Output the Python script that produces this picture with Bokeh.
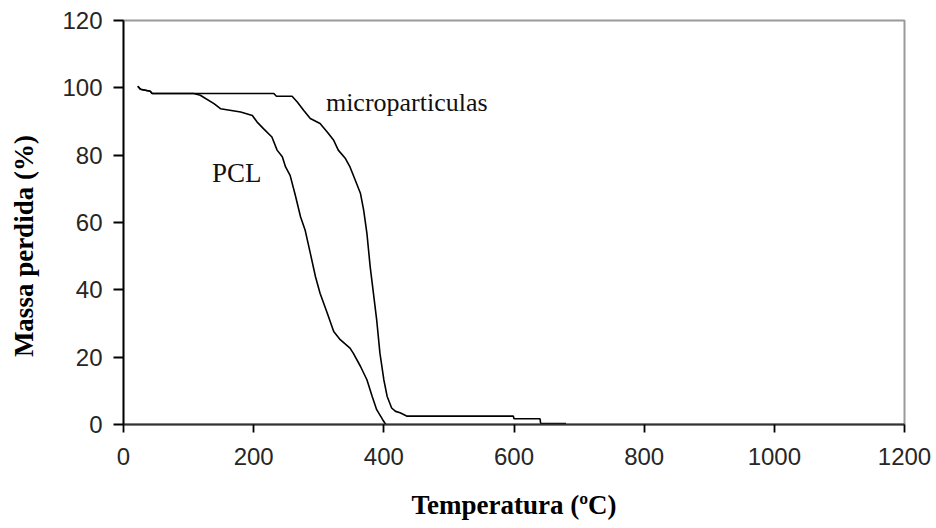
from bokeh.plotting import figure
from bokeh.models import Range1d, FixedTicker, Label
from bokeh.embed import file_html
from bokeh.resources import INLINE

# PCL curve (temperature in ºC, mass %)
pcl_temp = [22, 26, 41, 44, 108, 118, 139, 149, 180, 198, 205, 215, 228, 236, 244,
            249, 256, 264, 272, 279, 287, 295, 302, 313, 323, 333, 348, 353, 364,
            374, 382, 389, 398, 403]
pcl_mass = [100.5, 99.6, 99.0, 98.3, 98.3, 97.8, 95.3, 93.8, 92.8, 91.8, 89.9, 87.9,
            85.4, 81.5, 79.5, 76.5, 74.0, 68.1, 61.7, 57.8, 50.9, 43.9, 39.0, 33.1,
            27.6, 25.2, 22.7, 21.2, 17.3, 13.3, 8.4, 4.4, 1.5, 0.0]

# microparticulas curve
micro_temp = [22, 26, 41, 44, 231, 235, 259, 267, 277, 287, 302, 313, 323, 330, 341,
              348, 356, 364, 369, 374, 379, 384, 389, 394, 400, 405, 412, 418, 425,
              435, 599, 600, 640, 641, 680]
micro_mass = [100.5, 99.6, 99.0, 98.3, 98.3, 97.5, 97.5, 95.8, 93.3, 90.9, 89.4, 86.9,
              84.4, 81.5, 79.0, 76.5, 72.6, 68.7, 63.7, 56.8, 46.9, 39.0, 31.1, 21.2,
              13.3, 8.4, 4.9, 3.9, 3.5, 2.5, 2.5, 1.7, 1.7, 0.3, 0.3]

x_ticks = [0, 200, 400, 600, 800, 1000, 1200]
y_ticks = [0, 20, 40, 60, 80, 100, 120]

p = figure(width=936, height=528, output_backend="svg", toolbar_location=None,
           x_range=Range1d(0, 1200), y_range=Range1d(0, 120),
           min_border_left=123, min_border_right=32, min_border_top=20,
           min_border_bottom=104)
p.background_fill_color = "white"
p.border_fill_color = "white"
p.outline_line_color = "#9a9a9a"
p.outline_line_width = 2
p.xgrid.visible = False
p.ygrid.visible = False

p.line(pcl_temp, pcl_mass, line_color="black", line_width=1.6)
p.line(micro_temp, micro_mass, line_color="black", line_width=1.6)

for ax in (p.xaxis[0], p.yaxis[0]):
    ax.major_label_text_font = "Liberation Sans"
    ax.major_label_text_font_size = "24px"
    ax.major_label_text_color = "#262626"
    ax.minor_tick_line_color = None
    ax.major_tick_in = 0
    ax.axis_line_width = 1.8
    ax.major_tick_line_width = 1.8
    ax.axis_label_text_font = "Liberation Serif"
    ax.axis_label_text_font_style = "bold"
    ax.axis_label_text_font_size = "27px"
    ax.axis_label_text_color = "black"

p.xaxis[0].ticker = FixedTicker(ticks=x_ticks)
p.yaxis[0].ticker = FixedTicker(ticks=y_ticks)
p.xaxis[0].major_tick_out = 8
p.yaxis[0].major_tick_out = 10
p.xaxis[0].major_label_standoff = 15
p.yaxis[0].major_label_standoff = 11
p.xaxis[0].axis_line_color = "#333333"
p.yaxis[0].axis_line_color = "black"

p.xaxis[0].axis_label = "Temperatura (ºC)"
p.xaxis[0].axis_label_standoff = 22

# trailing no-break spaces shift the centred title down to match the reference
p.yaxis[0].axis_label = "Massa perdida (%)" + "\u00a0" * 7
p.yaxis[0].axis_label_standoff = 20

p.add_layout(Label(x=136, y=74.7, text="PCL", text_font="Liberation Serif",
                   text_font_size="27px", text_color="#111111",
                   text_align="left", text_baseline="alphabetic"))
p.add_layout(Label(x=311, y=95.5, text="microparticulas", text_font="Liberation Serif",
                   text_font_size="26px", text_color="#111111",
                   text_align="left", text_baseline="alphabetic"))

open("out.html", "w").write(file_html(p, INLINE))
